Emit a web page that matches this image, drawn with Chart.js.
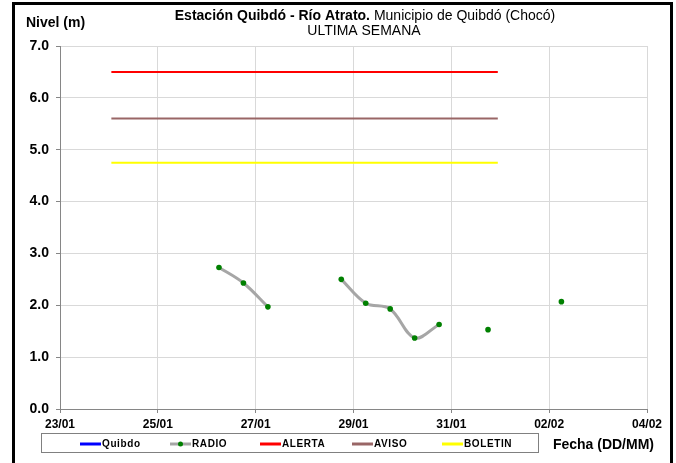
<!DOCTYPE html>
<html>
<head>
<meta charset="utf-8">
<script src="https://cdn.jsdelivr.net/npm/chart.js@4"></script>
<style>
  html, body { margin: 0; padding: 0; background: #fff; }
  canvas { display: block; }
</style>
</head>
<body>
<canvas id="nivelChart" width="676" height="463"></canvas>
<script>
// días desde 23/01 00:00
const xLabels = ['23/01', '25/01', '27/01', '29/01', '31/01', '02/02', '04/02'];
const yLabels = ['0.0', '1.0', '2.0', '3.0', '4.0', '5.0', '6.0', '7.0'];

const radioDays = [3.25, 3.75, 4.25, 4.75, 5.25, 5.75, 6.25, 6.75, 7.25, 7.75, 8.25, 8.75, 9.25, 9.75, 10.25];
const radioLevels = [2.73, 2.43, 1.97, null, null, 2.50, 2.04, 1.93, 1.37, 1.63, null, 1.53, null, null, 2.07];

const quibdoDays = [];
const quibdoLevels = [];

const umbralDays = [1.05, 8.95];
const alerta = [6.5, 6.5];
const aviso = [5.6, 5.6];
const boletin = [4.75, 4.75];

function pts(xs, ys) {
    return xs.map((x, i) => ({ x: x, y: ys[i] }));
}

const FONT = "'Liberation Sans', Arial, sans-serif";
Chart.defaults.font.family = FONT;
Chart.defaults.color = '#000';

const decor = {
    id: 'decor',
    beforeDraw(chart) {
        const c = chart.ctx;
        c.save();
        c.fillStyle = '#fff';
        c.fillRect(0, 0, chart.width, chart.height);
        c.restore();
    },
    afterDraw(chart) {
        const c = chart.ctx;
        c.save();

        // marco exterior
        c.strokeStyle = '#000';
        c.lineWidth = 3;
        c.beginPath();
        c.moveTo(13.5, 470);
        c.lineTo(13.5, 3.5);
        c.lineTo(671.5, 3.5);
        c.lineTo(671.5, 470);
        c.stroke();

        // titulo
        c.fillStyle = '#000';
        c.textBaseline = 'middle';
        c.textAlign = 'left';
        const t1 = 'Estación Quibdó - Río Atrato.';
        const t2 = ' Municipio de Quibdó (Chocó)';
        c.font = 'bold 14px ' + FONT;
        const w1 = c.measureText(t1).width;
        c.font = '14px ' + FONT;
        const w2 = c.measureText(t2).width;
        let x0 = 365 - (w1 + w2) / 2;
        c.font = 'bold 14px ' + FONT;
        c.fillText(t1, x0, 16);
        c.font = '14px ' + FONT;
        c.fillText(t2, x0 + w1, 16);
        c.textAlign = 'center';
        c.fillText('ULTIMA SEMANA', 364, 31);

        // titulos de ejes
        c.textAlign = 'left';
        c.font = 'bold 14px ' + FONT;
        c.fillText('Nivel (m)', 26, 23);
        c.textAlign = 'right';
        c.fillText('Fecha (DD/MM)', 654, 445);

        // leyenda
        c.strokeStyle = '#808080';
        c.lineWidth = 1;
        c.strokeRect(41.5, 433.5, 497, 19);
        c.textAlign = 'left';
        c.font = 'bold 10px ' + FONT;
        c.letterSpacing = '0.6px';
        const startX = [80, 170, 260, 352, 442];
        chart.data.datasets.forEach((ds, i) => {
            const lx = startX[i];
            const ly = 444;
            c.strokeStyle = ds.borderColor;
            c.lineWidth = 3;
            c.beginPath();
            c.moveTo(lx, ly);
            c.lineTo(lx + 21, ly);
            c.stroke();
            if (ds.pointRadius > 0) {
                c.fillStyle = ds.pointBackgroundColor;
                c.beginPath();
                c.arc(lx + 10.5, ly, 2.5, 0, Math.PI * 2);
                c.fill();
            }
            c.fillStyle = '#000';
            c.fillText(ds.label, lx + 22, ly + 0.5);
        });
        c.restore();
    }
};

new Chart(document.getElementById('nivelChart'), {
    type: 'line',
    data: {
        datasets: [
            {
                label: 'Quibdo',
                data: pts(quibdoDays, quibdoLevels),
                borderColor: '#0000ff',
                borderWidth: 3,
                pointRadius: 0
            },
            {
                label: 'RADIO',
                data: pts(radioDays, radioLevels),
                borderColor: '#a6a6a6',
                borderWidth: 3,
                tension: 0.35,
                spanGaps: false,
                pointRadius: 2.8,
                pointBorderWidth: 0,
                pointBackgroundColor: '#008000',
                pointBorderColor: '#008000'
            },
            {
                label: 'ALERTA',
                data: pts(umbralDays, alerta),
                borderColor: '#ff0000',
                borderWidth: 2,
                pointRadius: 0
            },
            {
                label: 'AVISO',
                data: pts(umbralDays, aviso),
                borderColor: '#996666',
                borderWidth: 2,
                pointRadius: 0
            },
            {
                label: 'BOLETIN',
                data: pts(umbralDays, boletin),
                borderColor: '#ffff00',
                borderWidth: 2,
                pointRadius: 0
            }
        ]
    },
    options: {
        responsive: false,
        animation: false,
        layout: {
            padding: { top: 46, right: 29, left: 0, bottom: 0 }
        },
        plugins: {
            legend: { display: false },
            title: { display: false },
            tooltip: { enabled: false }
        },
        scales: {
            x: {
                type: 'linear',
                min: 0,
                max: 12,
                afterFit: function(scale) { scale.height = 54; },
                ticks: {
                    stepSize: 2,
                    autoSkip: false,
                    maxRotation: 0,
                    padding: 4,
                    font: { size: 12, weight: 'bold' },
                    callback: function(value) { return xLabels[Math.round(value / 2)]; }
                },
                grid: {
                    color: '#d9d9d9',
                    tickColor: '#868686',
                    tickLength: 4
                },
                border: { color: '#868686' }
            },
            y: {
                min: 0,
                max: 7,
                afterFit: function(scale) { scale.width = 60; },
                ticks: {
                    stepSize: 1,
                    padding: 7,
                    font: { size: 14, weight: 'bold' },
                    callback: function(value) { return yLabels[Math.round(value)]; }
                },
                grid: {
                    color: '#d9d9d9',
                    tickColor: '#868686',
                    tickLength: 4
                },
                border: { color: '#868686' }
            }
        }
    },
    plugins: [decor]
});
</script>
</body>
</html>
